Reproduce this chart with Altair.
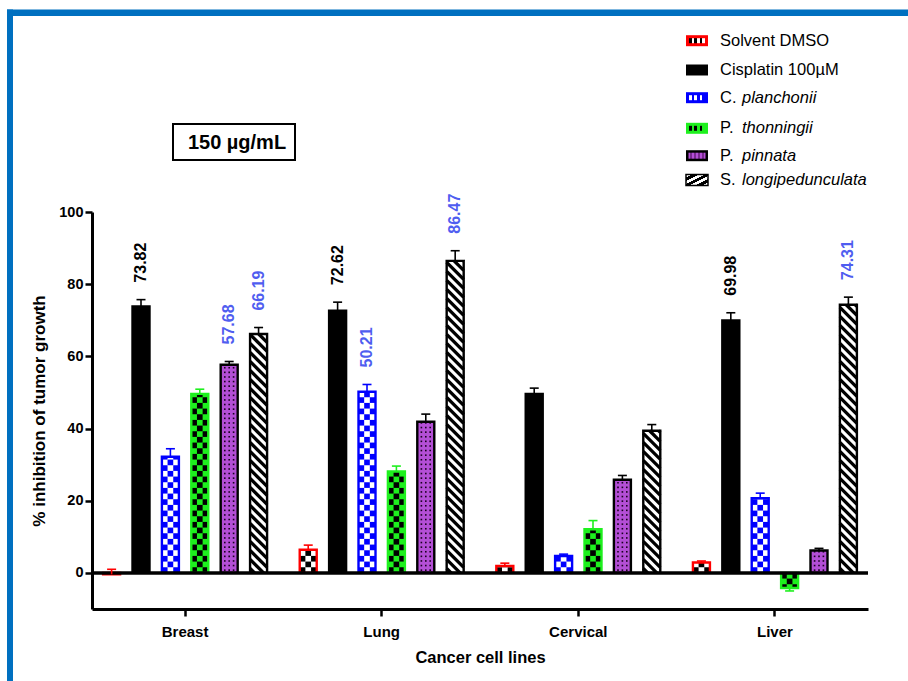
import altair as alt
import numpy as np
import pandas as pd

# ---------------------------------------------------------------- data
categories = ["Breast", "Lung", "Cervical", "Liver"]
series = ["Solvent DMSO", "Cisplatin 100µM", "C. planchonii",
          "P. thonningii", "P. pinnata", "S. longipedunculata"]

dmso = [-0.4, 6.4, 1.9, 2.9]
dmso_err = [1.4, 1.3, 0.8, 0.4]
cisplatin = [73.82, 72.62, 49.6, 69.98]
cisplatin_err = [1.9, 2.4, 1.6, 2.1]
planchonii = [32.2, 50.21, 4.7, 20.7]
planchonii_err = [2.2, 2.0, 0.5, 1.4]
thonningii = [49.6, 28.1, 12.1, -4.2]
thonningii_err = [1.3, 1.5, 2.4, 0.8]
pinnata = [57.68, 41.9, 25.8, 6.2]
pinnata_err = [0.9, 2.1, 1.2, 0.6]
longipedunculata = [66.19, 86.47, 39.4, 74.31]
longipedunculata_err = [1.8, 2.8, 1.7, 2.1]

# bars whose mean is printed above them
labelled = [("Breast", "Cisplatin 100µM"), ("Breast", "P. pinnata"),
            ("Breast", "S. longipedunculata"), ("Lung", "Cisplatin 100µM"),
            ("Lung", "C. planchonii"), ("Lung", "S. longipedunculata"),
            ("Liver", "Cisplatin 100µM"), ("Liver", "S. longipedunculata")]

panel_title = "150 µg/mL"

# ---------------------------------------------------------------- styles
RED, BLUE, GREEN, PURPLE = "#ff0000", "#0000ff", "#1ef01e", "#b44fd6"
LABEL_BLUE = "#4f5df0"
FRAME_BLUE = "#0070c0"
FONT = "Liberation Sans"
fills = ["#ffffff", "#000000", "#ffffff", GREEN, PURPLE, "#ffffff"]
strokes = [RED, "#000000", BLUE, GREEN, "#000000", "#000000"]
patterns = ["checker", "solid", "checker", "checker", "dots", "stripes"]
cell_colors = {"Solvent DMSO": "#000000", "C. planchonii": BLUE,
               "P. thonningii": "#000000"}

# ---------------------------------------------------------------- layout
W, H = 776, 397
Y_LO, Y_HI = -10, 100
PPU = H / (Y_HI - Y_LO)                 # pixels per percentage point
PAD_IN, PAD_OUT = 0.103, 0.025
STEP = W / (len(categories) - PAD_IN + 2 * PAD_OUT)
PITCH = STEP * (1 - PAD_IN) / len(series)   # distance between bars of a group
BAR_W = 17.0
CELL = BAR_W / 3                        # checkerboard square
DOT_STEP, DOT_GAP = 4.6, 4.4            # dotted fill spacing
STRIPE_P = 9.0                          # vertical period of the hatching

# ---------------------------------------------------------------- tables
values = [dmso, cisplatin, planchonii, thonningii, pinnata, longipedunculata]
errors = [dmso_err, cisplatin_err, planchonii_err, thonningii_err,
          pinnata_err, longipedunculata_err]

rows = []
for si, (name, vals, errs) in enumerate(zip(series, values, errors)):
    for ci, cat in enumerate(categories):
        v, e = vals[ci], errs[ci]
        # error bars point away from zero; near-zero means get an upper bar
        end = v + e if v > -1 else v - e
        rows.append(dict(cat=cat, ser=name, si=si, value=v, err=e, end=end,
                         label=f"{v:.2f}" if (cat, name) in labelled else ""))
bars = pd.DataFrame(rows)

cells, dots, stripes = [], [], []
for r in bars.itertuples():
    pat = patterns[r.si]
    sign = 1 if r.value >= 0 else -1
    h = abs(r.value)
    if pat == "checker":
        rh = CELL / PPU
        for k in range(int(np.ceil(h / rh))):
            for col in range(3):
                if (k + col) % 2 == 0:
                    cells.append(dict(cat=r.cat, ser=r.ser, si=r.si, col=col,
                                      y0=sign * k * rh,
                                      y1=sign * min((k + 1) * rh, h)))
    elif pat == "dots":
        rh = DOT_STEP / PPU
        k = 0
        while (k + 0.6) * rh < h - 0.2 * rh:
            for col in (-1, 0, 1):
                dots.append(dict(cat=r.cat, si=r.si, col=col,
                                 y=sign * (k + 0.6) * rh))
            k += 1
    elif pat == "stripes":
        hpx = h * PPU
        c = STRIPE_P / 2
        n = 0
        while c < hpx + BAR_W:
            t0 = max(0.0, (c - hpx) / BAR_W)
            t1 = min(1.0, c / BAR_W)
            if t1 > t0:
                sid = f"{r.cat}-{n}"
                for t in (t0, t1):
                    stripes.append(dict(cat=r.cat, si=r.si, sid=sid, t=t,
                                        y=sign * (c - BAR_W * t) / PPU))
            c += STRIPE_P
            n += 1
cells = pd.DataFrame(cells)
dots = pd.DataFrame(dots)
stripes = pd.DataFrame(stripes)

# ---------------------------------------------------------------- encodings
x_axis = alt.Axis(title="Cancer cell lines", labelAngle=0, labelFont=FONT,
                  labelFontSize=15, labelFontWeight="bold", labelColor="black",
                  labelPadding=8, tickSize=7, tickWidth=2.5, tickColor="black",
                  domainWidth=3, domainColor="black", grid=False,
                  titleFont=FONT, titleFontSize=16.5, titleFontWeight="bold",
                  titleColor="black", titleX=W / 2, titleY=48,
                  titleBaseline="middle", titleAlign="center")
y_axis = alt.Axis(title="% inhibition of tumor growth",
                  values=[0, 20, 40, 60, 80, 100], labelFont=FONT,
                  labelFontSize=14.5, labelFontWeight="bold", labelColor="black",
                  labelPadding=2, tickSize=7, tickWidth=2.5, tickColor="black",
                  domainWidth=3, domainColor="black", grid=False,
                  titleFont=FONT, titleFontSize=17, titleFontWeight="bold",
                  titleColor="black", titleAngle=270, titleX=-53, titleY=H / 2,
                  titleBaseline="middle", titleAlign="center")

x_enc = alt.X("cat:N", scale=alt.Scale(domain=categories, paddingInner=PAD_IN,
                                        paddingOuter=PAD_OUT), axis=x_axis)
xo_enc = alt.XOffset("ser:N", scale=alt.Scale(domain=series, paddingInner=0,
                                              paddingOuter=0))
y_scale = alt.Scale(domain=[Y_LO, Y_HI], nice=False, zero=False)


def y_enc(field):
    return alt.Y(f"{field}:Q", scale=y_scale, axis=y_axis)


stroke_enc = alt.Stroke("ser:N", scale=alt.Scale(domain=series, range=strokes),
                        legend=None)
slot = f"(datum.si - 2.5) * {PITCH:.4f}"

# ---------------------------------------------------------------- bar layers
fill_layer = alt.Chart(bars).mark_bar(width=BAR_W, strokeWidth=0).encode(
    x=x_enc, xOffset=xo_enc, y=y_enc("value"),
    fill=alt.Fill("ser:N", scale=alt.Scale(domain=series, range=fills),
                  legend=None))

cell_layer = alt.Chart(cells).mark_bar(
    width=CELL, strokeWidth=0,
    xOffset=alt.ExprRef(expr=f"{slot} + (datum.col - 1) * {CELL:.4f}")).encode(
    x=x_enc, y=y_enc("y0"), y2=alt.Y2("y1:Q"),
    color=alt.Color("ser:N", scale=alt.Scale(domain=list(cell_colors),
                                             range=list(cell_colors.values())),
                    legend=None))

dot_layer = alt.Chart(dots).mark_square(
    size=2.6, color="#1a0020", opacity=1,
    xOffset=alt.ExprRef(expr=f"{slot} + datum.col * {DOT_GAP}")).encode(
    x=x_enc, y=y_enc("y"))

stripe_layer = alt.Chart(stripes).mark_line(
    color="black", strokeWidth=3.3, strokeCap="butt",
    xOffset=alt.ExprRef(expr=f"{slot} + (datum.t - 0.5) * {BAR_W}")).encode(
    x=x_enc, y=y_enc("y"), detail="sid:N", order="t:Q")

outline_layer = alt.Chart(bars).mark_bar(
    width=BAR_W, fillOpacity=0, strokeWidth=2.4).encode(
    x=x_enc, xOffset=xo_enc, y=y_enc("value"), stroke=stroke_enc)

zero_layer = alt.Chart(pd.DataFrame({"z": [0]})).mark_rule(
    color="black", strokeWidth=3.5).encode(y=y_enc("z"))

err_layer = alt.Chart(bars).mark_rule(strokeWidth=1.6).encode(
    x=x_enc, xOffset=xo_enc, y=y_enc("value"), y2=alt.Y2("end:Q"),
    stroke=stroke_enc)

cap_layer = alt.Chart(bars).mark_point(
    shape="M -1 0 L 1 0", size=81, strokeWidth=1.6, filled=False,
    opacity=1).encode(x=x_enc, xOffset=xo_enc, y=y_enc("end"), stroke=stroke_enc)

label_layer = alt.Chart(bars[bars.label != ""]).mark_text(
    angle=270, align="left", baseline="middle", dx=17, font=FONT,
    fontSize=16, fontWeight="bold").encode(
    x=x_enc, xOffset=xo_enc, y=y_enc("end"), text="label:N",
    color=alt.condition(alt.datum.ser == series[1], alt.value("#000000"),
                        alt.value(LABEL_BLUE)))

# ---------------------------------------------------------------- decorations
one = pd.DataFrame({"k": [0]})


def box(x0, x1, y0, y1, **mark):
    return alt.Chart(one).mark_rect(**mark).encode(
        x=alt.value(x0), x2=alt.value(x1), y=alt.value(y0), y2=alt.value(y1))


def striped(c1, c2, n, x2=1, y2=0):
    stops = []
    for i in range(n):
        c = c1 if i % 2 == 0 else c2
        stops.append(alt.GradientStop(color=c, offset=i / n))
        stops.append(alt.GradientStop(color=c, offset=(i + 1) / n))
    return alt.LinearGradient(gradient="linear", stops=stops,
                              x1=0, y1=0, x2=x2, y2=y2)


frame = [box(-85, 816, -202.5, -196, fill=FRAME_BLUE),
         box(-85, -79, -202.5, 469, fill=FRAME_BLUE)]

title_box = [
    box(81, 203, -88, -52, fill="white", stroke="black", strokeWidth=2),
    alt.Chart(one).mark_text(font=FONT, fontSize=20, fontWeight="bold",
                             align="center", baseline="alphabetic").encode(
        x=alt.value(145), y=alt.value(-63), text=alt.value(panel_title)),
]

# legend: swatch + label (genus initial upright, epithet in italics)
legend_y = [-171.3, -142, -114.3, -83.7, -56.3, -32]
SW_X0, SW_X1, TXT_X, ITAL_X = 594, 616, 628, 650
legend = []
for i, name in enumerate(series):
    cy = legend_y[i]
    y0, y1 = cy - 5.5, cy + 5.5
    pat = patterns[i]
    if pat == "checker":
        inner = "#000000" if name != "C. planchonii" else "#ffffff"
        outer = strokes[i]
        legend.append(box(SW_X0, SW_X1, y0, y1, fill=outer))
        legend.append(box(SW_X0 + 3, SW_X1 - 3, cy - 2.5, cy + 2.5,
                          fill=striped(inner, outer if name != "Solvent DMSO"
                                       else "#ffffff", 6)))
    elif pat == "solid":
        legend.append(box(SW_X0, SW_X1, y0, y1, fill="#000000"))
    elif pat == "dots":
        legend.append(box(SW_X0, SW_X1, y0, y1, fill="#000000"))
        legend.append(box(SW_X0 + 2.5, SW_X1 - 2.5, cy - 3, cy + 3,
                          fill=striped(PURPLE, "#7a2a90", 9)))
    else:
        legend.append(box(SW_X0, SW_X1, y0, y1,
                          fill=striped("#ffffff", "#000000", 7, 1, 1),
                          stroke="#000000", strokeWidth=1.5))
    parts = name.split(" ", 1)
    if len(parts[0]) == 2 and parts[0].endswith("."):
        head, tail = parts[0], parts[1]
    else:
        head, tail = name, ""
    legend.append(alt.Chart(one).mark_text(
        font=FONT, fontSize=16.5, align="left", baseline="middle",
        color="black").encode(x=alt.value(TXT_X), y=alt.value(cy),
                              text=alt.value(head)))
    if tail:
        legend.append(alt.Chart(one).mark_text(
            font=FONT, fontSize=16.5, fontStyle="italic", align="left",
            baseline="middle", color="black").encode(
            x=alt.value(ITAL_X), y=alt.value(cy), text=alt.value(tail)))

chart = alt.layer(
    fill_layer, cell_layer, dot_layer, stripe_layer, outline_layer,
    zero_layer, err_layer, cap_layer, label_layer,
    *frame, *title_box, *legend,
).properties(
    width=W, height=H,
    padding={"left": 92, "top": 212, "right": 40, "bottom": 72},
    autosize=alt.AutoSizeParams(type="none"),
).configure(font=FONT).configure_view(strokeWidth=0)

chart.save("out.html", embed_options={"renderer": "svg", "actions": False})
